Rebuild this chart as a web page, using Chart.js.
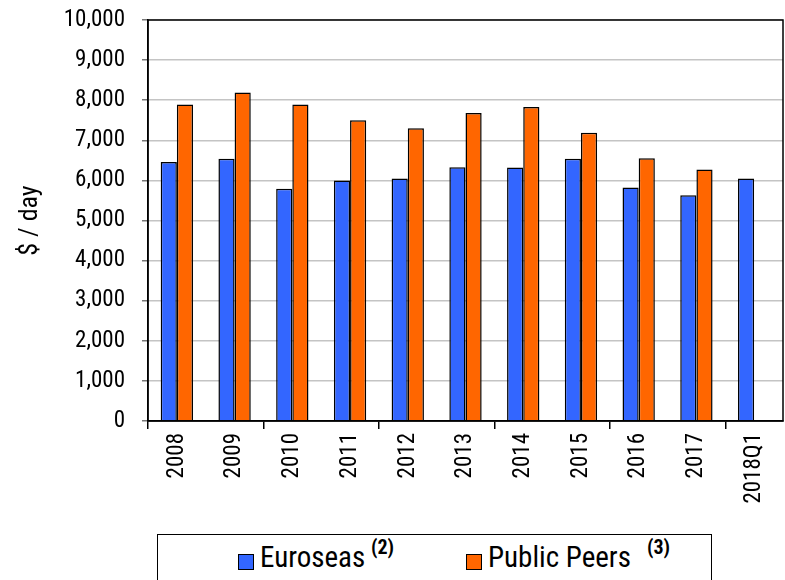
<!DOCTYPE html>
<html>
<head>
<meta charset="utf-8">
<script src="https://cdn.jsdelivr.net/npm/chart.js@4.4.1/dist/chart.umd.min.js"></script>
<style>
    body { margin: 0; background: #fff; }
    #wrap { position: relative; width: 785px; height: 580px; overflow: hidden; }
    #legenda {
        position: absolute; left: 157px; top: 534px; width: 555px; height: 60px;
        border: 1.5px solid #000; box-sizing: border-box; background: #fff;
        font-family: 'Roboto Condensed', 'Liberation Sans Narrow', 'DejaVu Sans Condensed', sans-serif;
    }
    .quad { position: absolute; top: 19px; width: 16px; height: 16px; border: 1.5px solid #000; box-sizing: border-box; }
    .txt { position: absolute; top: 4px; font-size: 29px; color: #000; line-height: 36px; }
    .sup { position: absolute; top: 1px; font-size: 20px; font-weight: bold; color: #000; line-height: 22px; }
</style>
</head>
<body>
<div id="wrap">
    <canvas id="grafico" width="785" height="580"></canvas>
    <div id="legenda">
        <div class="quad" style="left:80px;background:#3366FF"></div>
        <span class="txt" style="left:102px">Euroseas</span>
        <span class="sup" style="left:213px">(2)</span>
        <div class="quad" style="left:308px;background:#FF6600"></div>
        <span class="txt" style="left:330px">Public Peers</span>
        <span class="sup" style="left:489px">(3)</span>
    </div>
</div>
<script>
    const anos = ['2008', '2009', '2010', '2011', '2012', '2013', '2014', '2015', '2016', '2017', '2018Q1'];
    const euroseas = [6460, 6540, 5790, 6000, 6050, 6330, 6320, 6540, 5820, 5630, 6050];
    const publicPeers = [7890, 8190, 7890, 7500, 7300, 7680, 7830, 7190, 6550, 6270, null];
    const ticksY = [0, 1000, 2000, 3000, 4000, 5000, 6000, 7000, 8000, 9000, 10000];

    const fonteNarrow = "'Roboto Condensed', 'Liberation Sans Narrow', 'DejaVu Sans Condensed', sans-serif";

    // moldura preta em volta da area do grafico
    const moldura = {
        id: 'moldura',
        afterDraw(chart) {
            const { ctx, chartArea: a } = chart;
            ctx.save();
            ctx.strokeStyle = '#000';
            ctx.lineWidth = 1.5;
            ctx.strokeRect(a.left, a.top, a.right - a.left, a.bottom - a.top);
            ctx.restore();
        }
    };

    new Chart(document.getElementById('grafico'), {
        type: 'bar',
        data: {
            labels: anos,
            datasets: [
                { label: 'Euroseas', data: euroseas, backgroundColor: '#3366FF', borderColor: '#000', borderWidth: 1.5 },
                { label: 'Public Peers', data: publicPeers, backgroundColor: '#FF6600', borderColor: '#000', borderWidth: 1.5 }
            ]
        },
        options: {
            responsive: false,
            animation: false,
            layout: { padding: { top: 20, right: 2, left: 0, bottom: 0 } },
            datasets: { bar: { categoryPercentage: 0.56, barPercentage: 1.0 } },
            plugins: { legend: { display: false }, tooltip: { enabled: false } },
            scales: {
                x: {
                    afterFit: (scale) => {
                        scale.height = 159;
                        scale.paddingLeft = 0;
                        scale.paddingRight = 0;
                    },
                    grid: {
                        offset: true,
                        drawOnChartArea: false,
                        tickLength: 8,
                        color: (c) => (c.index % 2 === 0 ? '#000' : 'rgba(0,0,0,0)'),
                        lineWidth: 1.5
                    },
                    border: { color: '#000', width: 1.5 },
                    ticks: {
                        autoSkip: false,
                        minRotation: 90,
                        maxRotation: 90,
                        padding: 4,
                        color: '#000',
                        font: { family: fonteNarrow, size: 23 }
                    }
                },
                y: {
                    min: 0,
                    max: 10000,
                    afterFit: (scale) => {
                        scale.width = 148;
                        scale.paddingTop = 0;
                        scale.paddingBottom = 0;
                    },
                    afterBuildTicks: (scale) => { scale.ticks = ticksY.map(v => ({ value: v })); },
                    grid: { color: '#c4c4c4', lineWidth: 1.5, tickLength: 6, tickColor: '#777' },
                    border: { color: '#000', width: 1.5 },
                    ticks: {
                        padding: 17,
                        color: '#000',
                        font: { family: fonteNarrow, size: 23 },
                        callback: (v) => v.toLocaleString('en-US')
                    },
                    title: {
                        display: true,
                        text: '$ / day',
                        color: '#000',
                        padding: { top: 15, bottom: 0 },
                        font: { family: fonteNarrow, size: 26 }
                    }
                }
            }
        },
        plugins: [moldura]
    });
</script>
</body>
</html>
